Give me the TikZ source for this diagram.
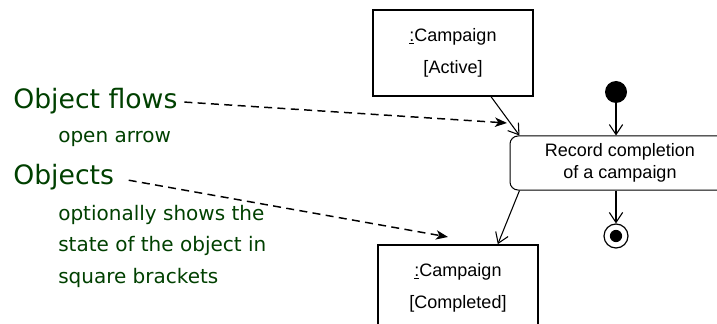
\documentclass[tikz,border=0pt]{standalone}
\usepackage{fontspec}
\setmainfont{Liberation Sans}
\newfontfamily\notefont{DejaVu Sans}
\usetikzlibrary{arrows.meta}
\definecolor{notegreen}{RGB}{0,64,0}

\begin{document}
\begin{tikzpicture}[x=0.75pt,y=-0.75pt,
    objbox/.style={draw, line width=1.2pt, minimum width=120pt, minimum height=64.5pt, align=center, font=\fontsize{13.5}{24}\selectfont},
    actbox/.style={draw, line width=0.75pt, rounded corners=6pt, minimum width=165pt, minimum height=40.5pt, align=center, font=\fontsize{13.5}{16.5}\selectfont},
    startdot/.style={circle, fill=black, inner sep=0pt, minimum size=16.5pt},
    enddot/.style={circle, draw, line width=0.9pt, inner sep=0pt, minimum size=18pt, path picture={\fill (path picture bounding box.center) circle (4.6pt);}},
    flow/.style={line width=0.8pt, -{Straight Barb[length=7.5pt,width=10pt]}},
    hint/.style={dashed, dash pattern=on 6pt off 4pt, line width=1.1pt, -{Stealth[length=9pt,width=7pt,inset=2.5pt]}},
    bignote/.style={text=notegreen, inner sep=0pt, font=\notefont\fontsize{20}{24}\selectfont},
    smallnote/.style={text=notegreen, inner sep=0pt, align=left, font=\notefont\fontsize{15}{23.6}\selectfont}]

    \clip (0,0) rectangle (717,324);

    % objects and the activity
    \node[objbox] (active) at (453,53) {\underline{:}Campaign\\{[Active]}};
    \node[objbox] (done) at (458,288) {\underline{:}Campaign\\{[Completed]}};
    \node[actbox] (record) at (620,163) {Record completion\\of a campaign};
    \node[startdot] (init) at (616,92) {};
    \node[enddot] (final) at (616,236) {};

    \draw[flow] (init) -- (init |- record.north);
    \draw[flow] (final |- record.south) -- (final);
    \draw[flow] ([xshift=-32pt]active.south east) -- ([xshift=7.5pt]record.north west);
    \draw[flow] ([xshift=7.5pt]record.south west) -- ([xshift=-30.75pt]done.north east);

    % notes (base of a multi-line node is its last line)
    \node[bignote, anchor=base west] (flows) at (13,109) {Object flows};
    \node[smallnote, anchor=base west] (flowsnote) at (58,143) {open arrow};
    \node[bignote, anchor=base west] (objects) at (13,185) {Objects};
    \node[smallnote, anchor=base west] (objectsnote) at (58,283) {optionally shows the\\state of the object in\\square brackets};

    \coordinate (flowtip) at (507,123);
    \coordinate (objtip) at (448,237);
    \draw[hint, shorten <=5pt] (flows.east) -- (flowtip);
    \draw[hint, shorten <=11pt] (objects.east) -- (objtip);

\end{tikzpicture}
\end{document}
